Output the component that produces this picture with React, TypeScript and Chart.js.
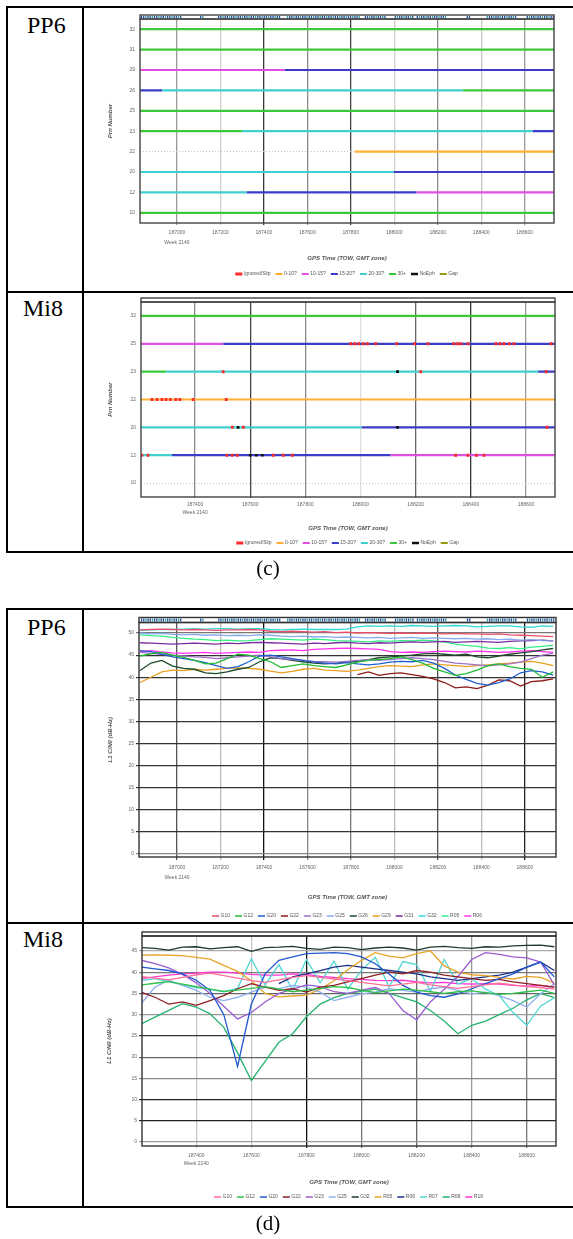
import React, { useEffect, useRef } from 'react';
import { Chart, registerables } from 'chart.js';

Chart.register(...registerables);
Chart.defaults.font.family = "'Liberation Sans', Arial, sans-serif";
Chart.defaults.color = '#666';

// ---------------- (c) elevation-class charts ----------------
const elevClasses = ['Ignored/Slip', '0-10?', '10-15?', '15-20?', '20-30?', '30+', 'NoEph', 'Gap'];
const elevColors = ['#ff2a2a', '#ffb030', '#e050e0', '#3c3cc8', '#40d0d0', '#3cc83c', '#111111', '#9a9a10'];

const pp6Prns = ['32', '31', '29', '26', '25', '23', '22', '20', '12', '10'];
// [prn, start TOW, end TOW, class index]
const pp6ElevSegments: [string, number, number, number][] = [
  ['32', 186830, 188735, 5],
  ['31', 186830, 188735, 5],
  ['29', 186830, 187497, 2], ['29', 187497, 188735, 3],
  ['26', 186830, 186931, 3], ['26', 186931, 188315, 4], ['26', 188315, 188735, 5],
  ['25', 186830, 188735, 5],
  ['23', 186830, 187299, 5], ['23', 187299, 188637, 4], ['23', 188637, 188735, 3],
  ['22', 187818, 188735, 1],
  ['20', 186830, 187998, 4], ['20', 187998, 188735, 3],
  ['12', 186830, 187322, 4], ['12', 187322, 188103, 3], ['12', 188103, 188735, 2],
  ['10', 186830, 188735, 5],
];
const pp6SlipMarks: [number, string][] = [];
const pp6NoEphMarks: [number, string][] = [];
// observation strip above PP6 plots: [start TOW, end TOW]
const pp6StripIntervals: [number, number][] = [
  [186834, 187014], [187106, 187124], [187189, 187474], [187506, 187841], [187864, 187956],
  [188002, 188085], [188103, 188241], [188333, 188347], [188425, 188563], [188609, 188729],
];

const mi8Prns = ['32', '25', '23', '22', '20', '12', '10'];
const mi8ElevSegments: [string, number, number, number][] = [
  ['32', 187204, 188705, 5],
  ['25', 187204, 187502, 2], ['25', 187502, 188705, 3],
  ['23', 187204, 187295, 5], ['23', 187295, 188644, 4], ['23', 188644, 188705, 3],
  ['22', 187204, 188705, 1],
  ['20', 187204, 188004, 4], ['20', 188004, 188705, 3],
  ['12', 187204, 187316, 4], ['12', 187316, 188109, 3], ['12', 188109, 188705, 2],
];
const mi8SlipMarks: [number, string][] = [
  [187964, '25'], [187978, '25'], [187993, '25'], [188010, '25'], [188025, '25'], [188055, '25'],
  [188131, '25'], [188196, '25'], [188244, '25'], [188338, '25'], [188352, '25'], [188364, '25'],
  [188389, '25'], [188491, '25'], [188505, '25'], [188520, '25'], [188540, '25'], [188556, '25'], [188691, '25'],
  [187502, '23'], [188218, '23'], [188673, '23'],
  [187244, '22'], [187262, '22'], [187280, '22'], [187295, '22'], [187310, '22'], [187330, '22'],
  [187345, '22'], [187393, '22'], [187513, '22'],
  [187535, '20'], [187575, '20'], [188676, '20'],
  [187207, '12'], [187229, '12'], [187516, '12'], [187535, '12'], [187553, '12'], [187684, '12'],
  [187720, '12'], [187753, '12'], [188345, '12'], [188389, '12'], [188420, '12'], [188447, '12'],
];
const mi8NoEphMarks: [number, string][] = [
  [188134, '23'], [187556, '20'], [188134, '20'], [187600, '12'], [187622, '12'], [187644, '12'],
];

// ---------------- (d) C/N0 charts ----------------
const pp6Names = ['G10', 'G12', 'G20', 'G22', 'G23', 'G25', 'G26', 'G29', 'G31', 'G32', 'R05', 'R06'];
const pp6Colors = ['#e8506a', '#22bb33', '#1f5fd0', '#8b1a1a', '#a070c8', '#88aaf0', '#1d4a2a', '#e8a020', '#7a2aa0', '#30d8d8', '#33ee88', '#ff33ee'];
const pp6Times = [186830, 186880, 186930, 186980, 187030, 187080, 187130, 187180, 187230, 187280, 187330, 187380, 187430, 187480, 187530, 187580, 187630, 187680, 187730, 187780, 187830, 187880, 187930, 187980, 188030, 188080, 188130, 188180, 188230, 188280, 188330, 188380, 188430, 188480, 188530, 188580, 188630, 188680, 188730];
const pp6G10 = [50.7, 50.8, 50.9, 50.8, 50.7, 50.8, 50.7, 50.6, 50.7, 50.7, 50.8, 50.7, 50.4, 50.3, 50.4, 50.3, 50.2, 50.3, 50.1, 50.2, 50.0, 50.1, 50.0, 49.9, 50.0, 49.9, 50.0, 49.9, 49.8, 49.9, 49.8, 49.8, 49.7, 49.8, 49.6, 49.5, 49.4, 49.3, 49.2];
const pp6G12 = [44.8, 45.3, 45.6, 45.0, 44.5, 43.8, 43.0, 43.2, 44.2, 45.2, 45.0, 44.2, 43.5, 42.2, 42.6, 43.0, 42.6, 42.4, 42.2, 42.8, 43.4, 43.8, 44.0, 44.2, 44.6, 44.0, 43.2, 42.0, 41.2, 40.4, 40.8, 41.6, 42.6, 43.0, 42.4, 42.0, 41.8, 40.0, 41.2];
const pp6G20 = [46.0, 45.8, 45.2, 44.6, 44.2, 43.8, 43.3, 42.6, 42.0, 42.4, 43.5, 44.8, 45.0, 44.6, 44.2, 43.8, 43.4, 43.2, 43.0, 43.3, 43.0, 42.8, 43.0, 43.4, 43.6, 43.5, 43.8, 43.2, 42.0, 40.5, 39.5, 38.6, 38.2, 38.8, 39.6, 41.0, 41.5, 41.2, 40.5];
const pp6G22 = [null, null, null, null, null, null, null, null, null, null, null, null, null, null, null, null, null, null, null, null, 40.6, 41.2, 40.4, 40.8, 41.0, 40.6, 40.2, 39.6, 38.8, 37.6, 37.8, 37.4, 38.2, 39.4, 39.2, 38.0, 39.0, 39.2, 39.6];
const pp6G23 = [45.6, 45.4, 45.2, 45.0, 44.8, 44.6, 44.5, 44.2, 44.4, 44.6, 44.8, 45.0, 44.6, 44.2, 44.0, 43.8, 43.6, 43.5, 43.4, 43.6, 43.8, 44.0, 43.8, 44.0, 44.2, 44.4, 44.2, 44.0, 43.6, 43.2, 43.0, 42.8, 42.6, 42.8, 43.0, 43.4, 44.2, 45.0, 45.4];
const pp6G25 = [50.0, 49.8, 49.9, 49.7, 49.6, 49.7, 49.5, 49.6, 49.4, 49.5, 49.4, 49.6, 49.5, 49.3, 49.2, 49.3, 49.1, 49.2, 49.0, 49.1, 49.0, 48.9, 49.0, 48.8, 48.9, 49.0, 48.8, 48.9, 48.8, 48.7, 48.8, 48.6, 48.7, 48.5, 48.6, 48.4, 48.5, 48.3, 48.2];
const pp6G26 = [41.5, 43.2, 43.8, 42.5, 42.0, 41.8, 41.0, 40.8, 41.2, 41.8, 42.2, 43.5, 44.4, 44.2, 43.8, 43.5, 43.2, 43.0, 43.2, 43.4, 43.6, 44.0, 44.4, 44.6, 44.8, 45.0, 45.3, 45.4, 45.2, 45.0, 45.2, 44.6, 44.4, 44.8, 45.2, 45.5, 45.8, 46.2, 46.5];
const pp6G29 = [38.8, 40.0, 41.2, 41.6, 41.5, 41.8, 41.6, 41.8, 42.0, 42.1, 42.0, 41.8, 41.4, 41.0, 41.3, 41.8, 42.0, 41.6, 41.5, 41.3, 41.6, 42.0, 42.4, 42.6, 42.5, 42.4, 42.8, 43.0, 42.8, 42.6, 42.4, 42.6, 42.8, 43.0, 43.2, 43.4, 43.6, 43.2, 42.6];
const pp6G31 = [47.8, 47.7, 47.6, 47.5, 47.6, 47.7, 47.6, 47.5, 47.7, 47.6, 47.8, 47.9, 47.8, 47.7, 47.6, 47.5, 47.7, 47.6, 47.8, 47.9, 47.7, 47.6, 47.8, 47.7, 47.9, 48.0, 47.9, 48.0, 48.1, 47.9, 48.0, 48.1, 48.0, 47.9, 48.1, 48.2, 48.3, 48.4, 48.2];
const pp6G32 = [50.6, 50.7, 50.8, 50.8, 50.9, 51.0, 50.9, 51.0, 51.0, 50.9, 51.0, 51.0, 50.8, 50.7, 50.8, 50.9, 50.8, 50.8, 50.8, 50.9, 51.4, 51.6, 51.5, 51.6, 51.5, 51.7, 51.6, 51.5, 51.6, 51.7, 51.6, 51.4, 51.5, 51.6, 51.6, 51.4, 51.3, 51.6, 51.5];
const pp6R05 = [49.6, 49.4, 49.3, 49.0, 48.8, 48.6, 48.5, 48.3, 48.4, 48.2, 48.3, 48.5, 48.7, 48.6, 48.5, 48.4, 48.6, 48.5, 48.3, 48.2, 48.1, 48.0, 48.2, 48.1, 48.3, 48.2, 48.4, 48.2, 48.0, 47.5, 47.2, 47.0, 46.6, 46.5, 46.7, 46.4, 46.8, 47.0, 47.2];
const pp6R06 = [45.8, 46.0, 45.7, 45.5, 45.4, 45.5, 45.6, 45.4, 45.5, 45.6, 45.7, 45.6, 46.0, 46.1, 46.2, 46.0, 46.3, 46.4, 46.5, 46.6, 46.5, 46.4, 46.3, 45.8, 45.6, 45.7, 45.6, 45.8, 45.9, 45.8, 45.7, 45.9, 45.8, 45.6, 45.7, 45.9, 46.0, 45.8, 45.6];
const pp6Series = [pp6G10, pp6G12, pp6G20, pp6G22, pp6G23, pp6G25, pp6G26, pp6G29, pp6G31, pp6G32, pp6R05, pp6R06];

const mi8Names = ['G10', 'G12', 'G20', 'G22', 'G23', 'G25', 'G32', 'R05', 'R06', 'R07', 'R08', 'R16'];
const mi8Colors = ['#ff6f9a', '#2ec24a', '#2058d0', '#8e1f24', '#9a5ccf', '#8fb0f0', '#1e3a2c', '#e8a428', '#1c2f86', '#52d6d2', '#23b36e', '#ff33d2'];
const mi8Times = [187200, 187250, 187300, 187350, 187400, 187450, 187500, 187550, 187600, 187650, 187700, 187750, 187800, 187850, 187900, 187950, 188000, 188050, 188100, 188150, 188200, 188250, 188300, 188350, 188400, 188450, 188500, 188550, 188600, 188650, 188700];
const mi8G10 = [39.0, 38.6, 38.2, 38.8, 39.4, 39.8, 39.2, 38.6, 38.0, 37.6, 38.2, 38.8, 39.2, 38.8, 38.4, 38.0, 37.6, 37.2, 36.8, 37.2, 37.6, 37.0, 36.6, 36.2, 36.6, 37.0, 37.4, 37.0, 36.6, 36.4, 36.0];
const mi8G12 = [37.0, 37.4, 37.8, 37.2, 36.6, 36.0, 35.5, 35.8, 36.2, 36.6, 36.0, 35.4, 35.8, 36.2, 36.6, 36.4, 35.8, 35.2, 35.6, 36.0, 35.8, 35.4, 35.0, 35.4, 35.6, 35.2, 34.8, 35.0, 35.4, 35.8, 35.0];
const mi8G20 = [41.2, 40.8, 40.4, 39.6, 38.1, 35.7, 30.0, 17.8, 32.5, 39.6, 42.8, 43.6, 44.4, 44.5, 44.6, 44.4, 43.6, 42.0, 39.6, 36.9, 35.3, 34.5, 34.1, 34.9, 36.1, 37.3, 38.5, 39.6, 41.2, 42.4, 38.9];
const mi8G22 = [35.3, 34.1, 32.5, 33.0, 32.2, 33.3, 34.5, 36.1, 37.3, 36.5, 35.7, 36.1, 35.3, 36.5, 36.9, 37.7, 38.5, 39.3, 40.0, 39.6, 40.4, 40.0, 39.3, 38.9, 38.5, 38.1, 38.3, 37.7, 37.3, 36.9, 36.5];
const mi8G23 = [42.8, 42.0, 41.0, 39.5, 37.5, 35.0, 32.0, 29.0, 30.5, 33.0, 35.0, 36.0, 37.0, 36.6, 35.4, 35.0, 35.8, 36.4, 35.0, 31.0, 28.8, 33.0, 36.0, 39.0, 43.0, 44.6, 44.2, 43.6, 43.4, 42.4, 37.0];
const mi8G25 = [32.6, 36.5, 38.1, 36.9, 35.7, 34.1, 33.3, 34.1, 35.3, 36.5, 36.1, 36.9, 36.5, 35.3, 33.3, 34.1, 34.9, 35.3, 36.1, 35.7, 35.3, 36.1, 36.5, 35.7, 34.9, 35.3, 34.5, 33.3, 31.8, 34.9, 37.3];
const mi8G32 = [45.8, 45.6, 45.2, 45.9, 46.0, 45.5, 45.8, 46.0, 44.9, 45.8, 45.9, 46.1, 45.6, 45.4, 45.9, 45.8, 45.3, 45.7, 45.9, 45.7, 45.2, 45.9, 46.1, 45.8, 45.6, 46.0, 45.9, 46.2, 46.3, 46.4, 46.0];
const mi8R05 = [44.0, 44.1, 44.0, 43.9, 43.5, 43.1, 41.6, 40.2, 38.0, 35.0, 34.2, 34.4, 34.6, 36.0, 38.0, 40.6, 42.8, 44.6, 43.8, 43.4, 44.4, 45.0, 41.5, 40.0, 39.4, 39.2, 38.8, 38.4, 39.0, 38.8, 37.5];
const mi8R06 = [null, null, null, null, null, null, null, null, null, null, 37.3, 38.9, 39.6, 40.4, 41.2, 41.6, 41.2, 40.8, 40.4, 40.0, 39.6, 38.9, 38.5, 38.1, 38.5, 38.9, 39.3, 40.0, 41.2, 42.4, 40.4];
const mi8R07 = [38.0, 38.5, 37.8, 37.0, 36.4, 36.0, 35.4, 36.2, 43.2, 37.0, 41.8, 35.8, 43.0, 37.5, 42.6, 36.0, 40.5, 43.5, 36.5, 42.5, 41.8, 35.5, 43.0, 37.2, 38.5, 36.0, 34.5, 30.5, 27.5, 32.0, 34.0];
const mi8R08 = [27.8, 29.4, 31.0, 32.6, 31.8, 30.2, 27.0, 21.0, 14.5, 19.0, 23.5, 25.5, 29.5, 32.5, 34.0, 35.0, 35.5, 36.0, 35.0, 34.0, 33.0, 31.0, 28.5, 25.5, 27.5, 28.5, 30.0, 31.5, 33.5, 35.0, 34.0];
const mi8R16 = [38.5, 38.9, 39.3, 39.6, 39.8, 40.0, 40.0, 39.8, 39.5, 39.3, 39.3, 39.6, 39.5, 39.0, 38.8, 38.5, 38.3, 38.1, 38.0, 38.1, 37.7, 37.5, 37.6, 37.3, 37.2, 37.3, 37.2, 36.9, 36.7, 36.9, 36.5];
const mi8Series = [mi8G10, mi8G12, mi8G20, mi8G22, mi8G23, mi8G25, mi8G32, mi8R05, mi8R06, mi8R07, mi8R08, mi8R16];

// ---------------- layout helpers ----------------
type Geo = {
  canvasX: number; canvasY: number; L: number; R: number; T: number; B: number;
  yTitleX: number; xTitleY: number; legendY: number;
  xTickLen: number; xTickPad: number; xTickLH: number;
};
const LEG_PAD = 6;
const FS = 5;
function layoutFor(g: Geo) {
  const cl = g.L - g.canvasX, cr = g.R - g.canvasX, ct = g.T - g.canvasY, cb = g.B - g.canvasY;
  const padL = g.yTitleX - g.canvasX - 3.6;
  const yW = cl - padL;
  const padR = 14;
  const w = Math.round(cr + padR);
  const hx = g.xTitleY - g.canvasY + 3.6 - cb;
  const legendH = FS + LEG_PAD + 10;
  const h = Math.ceil(cb + hx + legendH + 4);
  return { w, h, padL, padR: w - cr, padT: ct, padB: h - cb - hx - legendH, yW, hx, legendCY: g.legendY - g.canvasY };
}

const frameStrip = {
  id: 'frameStrip',
  afterDatasetsDraw(chart: any, _args: any, opts: any) {
    const { ctx, chartArea: ca } = chart;
    const xs = chart.scales.x;
    const h = opts.stripH;
    ctx.save();
    if (opts.marks) {
      let k = 0;
      for (const [a, b] of opts.marks) {
        for (let t = a; t <= b; t += opts.markStep) {
          const px = xs.getPixelForValue(t);
          ctx.fillStyle = k % 3 === 2 ? '#2fa0a8' : '#1f4f9e';
          ctx.fillRect(px, ca.top - h + 1, 1.3, h - 2);
          k++;
        }
      }
    }
    ctx.lineWidth = opts.lineWidth;
    ctx.strokeStyle = opts.color;
    ctx.strokeRect(ca.left, ca.top - h, ca.right - ca.left, h);
    ctx.strokeRect(ca.left, ca.top, ca.right - ca.left, ca.bottom - ca.top);
    ctx.restore();
  },
};

const legendPlace = {
  id: 'legendPlace',
  afterLayout(chart: any, _args: any, opts: any) {
    const l = chart.legend;
    const ca = chart.chartArea;
    if (!l) return;
    l.left = ca.left;
    l.right = ca.right;
    l.width = ca.right - ca.left;
    const top = opts.centerY - LEG_PAD - FS / 2;
    const hgt = l.height;
    l.top = top;
    l.bottom = top + hgt;
  },
};

const titleFont = { size: 6, style: 'italic' as const, weight: 'bold' as const, lineHeight: 1.2 };

function xScale(g: Geo, lay: any, min: number, max: number, gridCols: string[]) {
  return {
    type: 'linear', position: 'bottom', min, max,
    afterFit: (s: any) => { s.height = lay.hx; },
    ticks: {
      stepSize: 200, includeBounds: false, autoSkip: false, maxRotation: 0, minRotation: 0,
      padding: g.xTickPad, color: '#666',
      font: { size: 5, lineHeight: g.xTickLH / 5 },
      callback: (v: number, i: number) => (i === 0 ? [String(v), 'Week 2140'] : String(v)),
    },
    grid: {
      color: (c: any) => gridCols[c.index] ?? '#999',
      lineWidth: 1.3, tickLength: g.xTickLen, drawTicks: true,
    },
    border: { display: false },
    title: { display: true, text: 'GPS Time (TOW, GMT zone)', color: '#555', padding: 0, font: titleFont },
  };
}

function legendOpts() {
  return {
    display: true,
    position: 'bottom',
    labels: {
      usePointStyle: true, pointStyle: 'line', boxWidth: 5, boxHeight: 5, padding: LEG_PAD,
      font: { size: 5 }, color: '#555',
      sort: (a: any, b: any) => a.datasetIndex - b.datasetIndex,
    },
  };
}

function elevConfig(g: Geo, prns: string[], segs: [string, number, number, number][], slips: [number, string][],
  noEph: [number, string][], xMin: number, xMax: number, gridCols: string[], strip: any, markHalf: number) {
  const lay = layoutFor(g);
  const datasets = elevClasses.map((name, k) => {
    const data: any[] = [];
    const add = (prn: string, a: number, b: number) => {
      const y = prns.indexOf(prn);
      data.push({ x: a, y }, { x: b, y }, { x: b, y: null });
    };
    segs.filter((s) => s[3] === k).forEach((s) => add(s[0], s[1], s[2]));
    if (k === 0) slips.forEach(([t, p]) => add(p, t - markHalf, t + markHalf));
    if (k === 6) noEph.forEach(([t, p]) => add(p, t - markHalf, t + markHalf));
    return {
      label: name, data, borderColor: elevColors[k], backgroundColor: elevColors[k],
      borderWidth: k === 0 ? 3 : k === 6 ? 2.6 : 2.2, pointRadius: 0, spanGaps: false,
      order: k === 0 || k === 6 ? -1 : 0,
    };
  });
  return {
    lay,
    config: {
      type: 'line',
      data: { datasets },
      options: {
        animation: false, responsive: false, devicePixelRatio: 1, events: [],
        layout: { padding: { left: lay.padL, right: lay.padR, top: lay.padT, bottom: lay.padB } },
        scales: {
          x: xScale(g, lay, xMin, xMax, gridCols),
          y: {
            type: 'linear', min: -0.5, max: prns.length - 0.5, reverse: true,
            afterFit: (s: any) => { s.width = lay.yW; },
            afterBuildTicks: (s: any) => { s.ticks = prns.map((_p, i) => ({ value: i })); },
            ticks: { autoSkip: false, padding: 5, color: '#666', font: { size: 5 }, callback: (v: number) => prns[Math.round(v)] ?? '' },
            grid: { color: '#c4c4c4', lineWidth: 1, drawTicks: false },
            border: { display: false, dash: [1, 2] },
            title: { display: true, text: 'Prn Number', color: '#555', padding: 0, font: titleFont },
          },
        },
        plugins: {
          legend: legendOpts(),
          tooltip: { enabled: false },
          frameStrip: strip,
          legendPlace: { centerY: lay.legendCY },
        },
      },
      plugins: [frameStrip, legendPlace],
    },
  };
}

function cnoConfig(g: Geo, names: string[], colors: string[], times: number[], series: (number | null)[][],
  xMin: number, xMax: number, yMin: number, yMax: number, gridCols: string[], yGridCols: string[], strip: any) {
  const lay = layoutFor(g);
  const datasets = names.map((n, k) => ({
    label: n,
    data: times.map((t, i) => ({ x: t, y: series[k][i] })),
    borderColor: colors[k], backgroundColor: colors[k], borderWidth: 1.3, pointRadius: 0, tension: 0,
  }));
  return {
    lay,
    config: {
      type: 'line',
      data: { datasets },
      options: {
        animation: false, responsive: false, devicePixelRatio: 1, events: [],
        layout: { padding: { left: lay.padL, right: lay.padR, top: lay.padT, bottom: lay.padB } },
        scales: {
          x: xScale(g, lay, xMin, xMax, gridCols),
          y: {
            type: 'linear', min: yMin, max: yMax,
            afterFit: (s: any) => { s.width = lay.yW; },
            ticks: { stepSize: 5, includeBounds: false, autoSkip: false, padding: 2, color: '#666', font: { size: 5 }, callback: (v: number) => String(v) },
            grid: { color: (c: any) => yGridCols[c.index] ?? '#555', lineWidth: 1.2, tickLength: 3 },
            border: { display: false },
            title: { display: true, text: 'L1 C/N0 (dB-Hz)', color: '#555', padding: 0, font: titleFont },
          },
        },
        plugins: {
          legend: legendOpts(),
          tooltip: { enabled: false },
          frameStrip: strip,
          legendPlace: { centerY: lay.legendCY },
        },
      },
      plugins: [frameStrip, legendPlace],
    },
  };
}

// geometry (page pixels)
const geoPP6c: Geo = { canvasX: 85, canvasY: 9, L: 140, R: 554, T: 19, B: 223, yTitleX: 110, xTitleY: 258, legendY: 274, xTickLen: 2, xTickPad: 3, xTickLH: 9.6 };
const geoMi8c: Geo = { canvasX: 85, canvasY: 294, L: 141, R: 555, T: 302, B: 497, yTitleX: 110, xTitleY: 528, legendY: 543, xTickLen: 1, xTickPad: 2, xTickLH: 8.3 };
const geoPP6d: Geo = { canvasX: 85, canvasY: 611, L: 139, R: 556, T: 622.5, B: 857, yTitleX: 110, xTitleY: 897, legendY: 916, xTickLen: 3, xTickPad: 3, xTickLH: 10 };
const geoMi8d: Geo = { canvasX: 85, canvasY: 925, L: 142, R: 556, T: 936, B: 1146, yTitleX: 109, xTitleY: 1182, legendY: 1197, xTickLen: 2, xTickPad: 3, xTickLH: 8.3 };

const gridPP6c = ['#9a9a9a', '#cfcfcf', '#3a3a3a', '#8a8a8a', '#444444', '#cfcfcf', '#8a8a8a', '#c4c4c4', '#9a9a9a'];
const gridMi8c = ['#8a8a8a', '#444444', '#8a8a8a', '#dedede', '#666666', '#333333', '#9a9a9a'];
const gridPP6d = ['#555555', '#bbbbbb', '#111111', '#888888', '#777777', '#bbbbbb', '#555555', '#bbbbbb', '#222222'];
const gridMi8d = ['#c8c8c8', '#c8c8c8', '#111111', '#777777', '#666666', '#999999', '#777777'];
const yGridPP6d = ['#888888', '#333333', '#333333', '#333333', '#333333', '#333333', '#333333', '#333333', '#333333', '#333333', '#777777'];
const yGridMi8d = ['#999999', '#222222', '#222222', '#888888', '#666666', '#333333', '#999999', '#666666', '#777777', '#aaaaaa'];

function ChartCanvas({ geo, build }: { geo: Geo; build: () => { lay: any; config: any } }) {
  const ref = useRef<HTMLCanvasElement>(null);
  const built = build();
  const { w, h } = built.lay;
  useEffect(() => {
    const c = new Chart(ref.current as HTMLCanvasElement, build().config as any);
    return () => c.destroy();
  }, []);
  return (
    <canvas ref={ref} width={w} height={h}
      style={{ position: 'absolute', left: geo.canvasX, top: geo.canvasY, width: w, height: h, zIndex: 1 }} />
  );
}

const Rule = ({ x, y, w, h }: { x: number; y: number; w: number; h: number }) => (
  <div style={{ position: 'absolute', left: x, top: y, width: w, height: h, background: '#000', zIndex: 2 }} />
);

const serif = "'Liberation Serif', 'Times New Roman', serif";
const Label = ({ x, base, size, text }: { x: number; base: number; size: number; text: string }) => (
  <div style={{ position: 'absolute', left: x, top: base - 0.8375 * size, fontFamily: serif, fontSize: size, lineHeight: `${size}px`, whiteSpace: 'nowrap', color: '#000', zIndex: 3 }}>{text}</div>
);
const Caption = ({ cx, base, size, text }: { cx: number; base: number; size: number; text: string }) => (
  <div style={{ position: 'absolute', left: cx - 100, width: 200, textAlign: 'center', top: base - 0.8375 * size, fontFamily: serif, fontSize: size, lineHeight: `${size}px`, color: '#000', zIndex: 3 }}>{text}</div>
);

export default function App() {
  return (
    <div style={{ position: 'absolute', left: 0, top: 0, width: 573, height: 1239, overflow: 'hidden', background: '#fff' }}>
      <ChartCanvas geo={geoPP6c} build={() => elevConfig(geoPP6c, pp6Prns, pp6ElevSegments, pp6SlipMarks, pp6NoEphMarks, 186830, 188735, gridPP6c,
        { stripH: 4, marks: pp6StripIntervals, markStep: 10, color: '#444', lineWidth: 1.4 }, 5)} />
      <ChartCanvas geo={geoMi8c} build={() => elevConfig(geoMi8c, mi8Prns, mi8ElevSegments, mi8SlipMarks, mi8NoEphMarks, 187204, 188705, gridMi8c,
        { stripH: 4, marks: null, markStep: 10, color: '#444', lineWidth: 1.4 }, 5)} />
      <ChartCanvas geo={geoPP6d} build={() => cnoConfig(geoPP6d, pp6Names, pp6Colors, pp6Times, pp6Series, 186825, 188743, -0.68, 52.38, gridPP6d, yGridPP6d,
        { stripH: 5, marks: pp6StripIntervals, markStep: 10, color: '#333', lineWidth: 1.4 })} />
      <ChartCanvas geo={geoMi8d} build={() => cnoConfig(geoMi8d, mi8Names, mi8Colors, mi8Times, mi8Series, 187203, 188706, -0.94, 48.53, gridMi8d, yGridMi8d,
        { stripH: 4, marks: null, markStep: 10, color: '#333', lineWidth: 1.4 })} />

      {/* table (c) */}
      <Rule x={6} y={6} w={567} h={2} />
      <Rule x={6} y={6} w={2} h={547} />
      <Rule x={82} y={6} w={2} h={547} />
      <Rule x={6} y={291} w={567} h={2} />
      <Rule x={6} y={551} w={567} h={2} />
      {/* table (d) */}
      <Rule x={6} y={608} w={567} h={2} />
      <Rule x={6} y={608} w={2} h={600} />
      <Rule x={82} y={608} w={2} h={600} />
      <Rule x={6} y={922} w={567} h={2} />
      <Rule x={6} y={1206} w={567} h={2} />

      <Label x={27} base={33} size={24} text="PP6" />
      <Label x={23} base={316} size={24} text="Mi8" />
      <Label x={27} base={635} size={24} text="PP6" />
      <Label x={23} base={947} size={24} text="Mi8" />
      <Caption cx={268} base={576} size={21} text="(c)" />
      <Caption cx={268} base={1231} size={21} text="(d)" />
    </div>
  );
}
